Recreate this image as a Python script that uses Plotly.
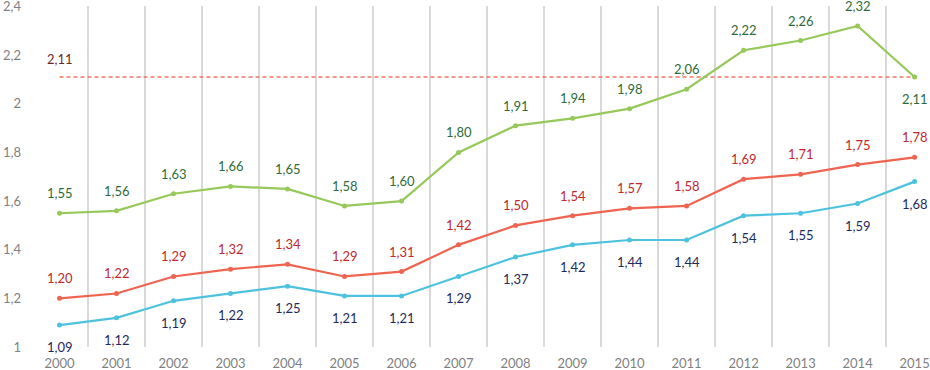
import plotly.graph_objects as go

years = [str(y) for y in range(2000, 2016)]
green_vals = [1.55, 1.56, 1.63, 1.66, 1.65, 1.58, 1.60, 1.80, 1.91, 1.94, 1.98, 2.06, 2.22, 2.26, 2.32, 2.11]
red_vals = [1.20, 1.22, 1.29, 1.32, 1.34, 1.29, 1.31, 1.42, 1.50, 1.54, 1.57, 1.58, 1.69, 1.71, 1.75, 1.78]
cyan_vals = [1.09, 1.12, 1.19, 1.22, 1.25, 1.21, 1.21, 1.29, 1.37, 1.42, 1.44, 1.44, 1.54, 1.55, 1.59, 1.68]
ref_value = 2.11
y_ticks = [1, 1.2, 1.4, 1.6, 1.8, 2, 2.2, 2.4]
y_tick_text = ["1", "1,2", "1,4", "1,6", "1,8", "2", "2,2", "2,4"]

FONT = "Lato"
fmt = lambda v: f"{v:.2f}".replace(".", ",")

fig = go.Figure()

fig.add_trace(go.Scatter(
    x=years, y=[ref_value] * len(years), mode="lines",
    line=dict(color="#f07565", width=1.5, dash="4px,3px"),
    hoverinfo="skip", showlegend=False))

series = [
    (green_vals, "#96c85a", "#2d6b3c", 20, [1] * 15 + [-1]),
    (red_vals, "#ef6450", "#c0282d", 20, [1] * 16),
    (cyan_vals, "#4cc2de", "#1f2a5c", -22, [1] * 16),
]

annotations = []
for vals, lc, tc, shift, dirs in series:
    fig.add_trace(go.Scatter(
        x=years, y=vals, mode="lines+markers",
        line=dict(color=lc, width=2.2),
        marker=dict(color=lc, size=5),
        showlegend=False))
    for i, (v, d) in enumerate(zip(vals, dirs)):
        s = shift if d == 1 else -22
        annotations.append(dict(
            x=i, y=v, xref="x", yref="y", text=fmt(v), showarrow=False, yshift=s,
            font=dict(family=FONT, size=13, color=tc)))

annotations.append(dict(
    x=0, y=ref_value, xref="x", yref="y", text=fmt(ref_value), showarrow=False, yshift=18,
    font=dict(family=FONT, size=13, color="#6b2a2a")))

fig.update_layout(
    width=930, height=370,
    margin=dict(l=31, r=0, t=6, b=23),
    paper_bgcolor="white", plot_bgcolor="white",
    font=dict(family=FONT, size=13, color="#7f7f7f"),
    annotations=annotations,
    xaxis=dict(
        type="category", range=[-0.5, 15.27], automargin=False,
        tickson="boundaries", showgrid=True, gridcolor="#d9d9d9", gridwidth=1.5,
        ticks="", showline=False, zeroline=False,
        ticklabelstandoff=7,
        tickfont=dict(family=FONT, size=13, color="#7f7f7f")),
    yaxis=dict(
        range=[1, 2.402], tickvals=y_ticks, ticktext=y_tick_text, automargin=False,
        showgrid=False, zeroline=False, showline=False, ticks="",
        ticklabelstandoff=9, ticklabeloverflow="allow",
        tickfont=dict(family=FONT, size=13, color="#7f7f7f")),
)

fig.write_html("out.html", config={"displayModeBar": False},
               post_script="document.body.style.margin='0';")
